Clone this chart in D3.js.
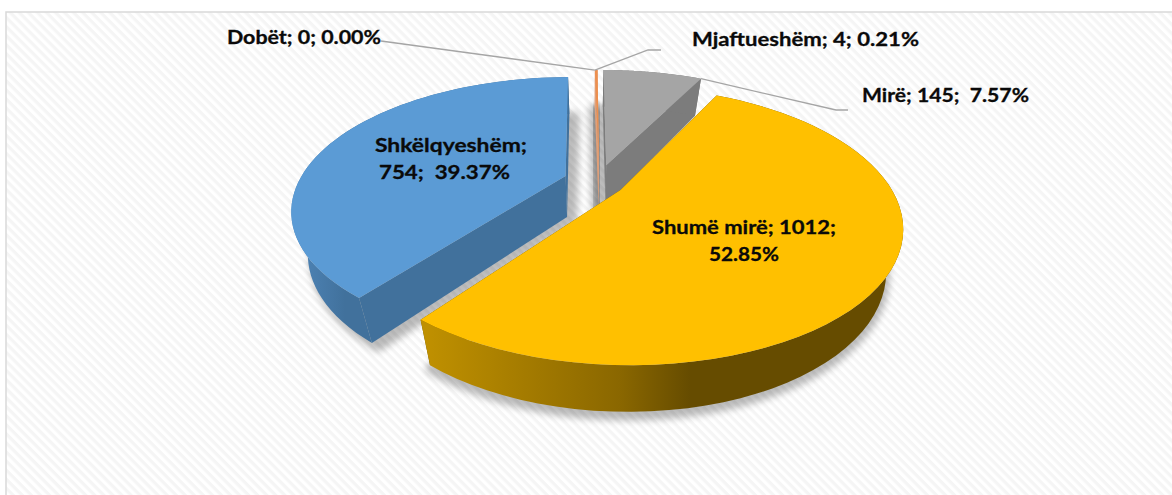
<!DOCTYPE html>
<html><head><meta charset="utf-8">
<script src="https://cdnjs.cloudflare.com/ajax/libs/d3/7.8.5/d3.min.js"></script>
<style>html,body{margin:0;padding:0;background:#fff;overflow:hidden}text{font-family:Lato,"Open Sans",sans-serif;font-weight:700;fill:#0a0a0a;stroke:#0a0a0a;stroke-width:.3px}</style>
</head><body><svg id="c" width="1172" height="495"></svg>
<script>
const categories=["Mirë","Shumë mirë","Shkëlqyeshëm","Dobët","Mjaftueshëm"];
const values=[145,1012,754,0,4];
const percents=["7.57%","52.85%","39.37%","0.00%","0.21%"];
const topColors=["#A5A5A5","#FFC000","#5B9BD5","#4472C4","#ED8F4E"];
const wallColors=["#7C7C7C","#664C00","#41719C","#335593","#DFA07A"];
const explode=[[.055,.09],[.105,-.11],[-.10,0],[0,0],[.027,.09]];
const shadowShift=[-9,0,5,0,0];
const W=1172,H=495,cx=592,cy=176,A=264,B=123.5,K=.248,D=41;
const svg=d3.select("#c");
const defs=svg.append("defs");
const pat=defs.append("pattern").attr("id","st").attr("width",6.4).attr("height",6.4).attr("patternUnits","userSpaceOnUse").attr("patternTransform","rotate(45)");
pat.append("rect").attr("width",6.4).attr("height",6.4).attr("fill","#fff");
pat.append("rect").attr("width",6.4).attr("height",3.2).attr("fill","#f5f5f5");
const f=defs.append("filter").attr("id","bl").attr("x","-20%").attr("y","-20%").attr("width","140%").attr("height","140%");
f.append("feGaussianBlur").attr("stdDeviation",3.5);
function grad(id,stops){const g=defs.append("linearGradient").attr("id",id).attr("gradientUnits","userSpaceOnUse").attr("x1",0).attr("x2",W).attr("y1",0).attr("y2",0);
 stops.forEach(s=>g.append("stop").attr("offset",s[0]/W).attr("stop-color",s[1]));}
grad("r1",[[427,"#BF9000"],[620,"#8A6700"],[690,"#664C00"]]);
grad("r2",[[295,"#4F85B8"],[345,"#41719C"]]);
svg.append("rect").attr("x",6).attr("y",12).attr("width",W).attr("height",H).attr("fill","url(#st)").attr("stroke","#d9d9d9").attr("stroke-width",1.5);
const pie=d3.pie().sort(null).value(d=>d)(values);
function P(x,y,h){const w=1+K*y,s=1-.055*h,w2=1+.11*y;
 return [cx+A*x/w*s, cy-B*y/w+D*h/w2];}
const line=d3.line();
const slices=pie.map((p,i)=>{const e=explode[i],a0=p.startAngle,a1=Math.max(p.endAngle,a0+.001);
 const rim=d3.range(0,61).map(j=>a0+(a1-a0)*j/60);
 const R=(t,h)=>P(e[0]+Math.sin(t),e[1]+Math.cos(t),h);
 const Ap=h=>P(e[0],e[1],h);
 return {i,a0,a1,rim,R,Ap};});
const order=[0,4,3,2,1];
const g=svg.append("g");
order.forEach(i=>{const s=slices[i];if(values[i]===0)return;
 const pts=[s.Ap(1.08),...s.rim.map(t=>s.R(t,1.08))];
 g.append("path").attr("d",line(pts)+"Z").attr("transform",`translate(${shadowShift[i]},0)`).attr("fill","#000").attr("stroke","#000").attr("stroke-width",10).attr("stroke-linejoin","round").attr("opacity",.26).attr("filter","url(#bl)");});
order.forEach(i=>{const s=slices[i];if(values[i]===0)return;
 const fillRim=i===1?"url(#r1)":i===2?"url(#r2)":wallColors[i];
 [[s.a0],[s.a1]].forEach(([t])=>{g.append("path").attr("d",line([s.Ap(0),s.R(t,0),s.R(t,1),s.Ap(1)])+"Z").attr("fill",wallColors[i]);});
 g.append("path").attr("d",line([...s.rim.map(t=>s.R(t,0)),...s.rim.slice().reverse().map(t=>s.R(t,1))])+"Z").attr("fill",fillRim);
 g.append("path").attr("d",line([s.Ap(0),...s.rim.map(t=>s.R(t,0))])+"Z").attr("fill",topColors[i]);
});
const leaderKnees=[[[836,110],[848,110]],null,null,[[381,41]],[[648,50],[661,50]]];
const anchors=[slices[0].R(slices[0].a1,0),null,null,slices[4].R(slices[4].a0,0),slices[4].R(slices[4].a0,0)];
leaderKnees.forEach((k,i)=>{if(!k)return;svg.append("path").attr("d",line([anchors[i],...k])).attr("fill","none").attr("stroke","#a5a5a5").attr("stroke-width",1.3);});
const labels=[
 {i:3,lines:[`${categories[3]}; ${values[3]}; ${percents[3]}`],x:[227],w:[154],y:[44]},
 {i:4,lines:[`${categories[4]}; ${values[4]}; ${percents[4]}`],x:[692],w:[227],y:[46]},
 {i:0,lines:[`${categories[0]}; ${values[0]};  ${percents[0]}`],x:[862],w:[167],y:[102]},
 {i:2,lines:[`${categories[2]};`,`${values[2]};  ${percents[2]}`],x:[375,379],w:[152,131],y:[152,179]},
 {i:1,lines:[`${categories[1]}; ${values[1]};`,percents[1]],x:[652,709],w:[184,70],y:[234,261]}];
labels.forEach(l=>l.lines.forEach((t,j)=>{svg.append("text").attr("x",l.x[j]).attr("y",l.y[j]).attr("font-size",19).attr("textLength",l.w[j]).attr("lengthAdjust","spacingAndGlyphs").style("white-space","pre").attr("xml:space","preserve").text(t);}));
</script></body></html>
